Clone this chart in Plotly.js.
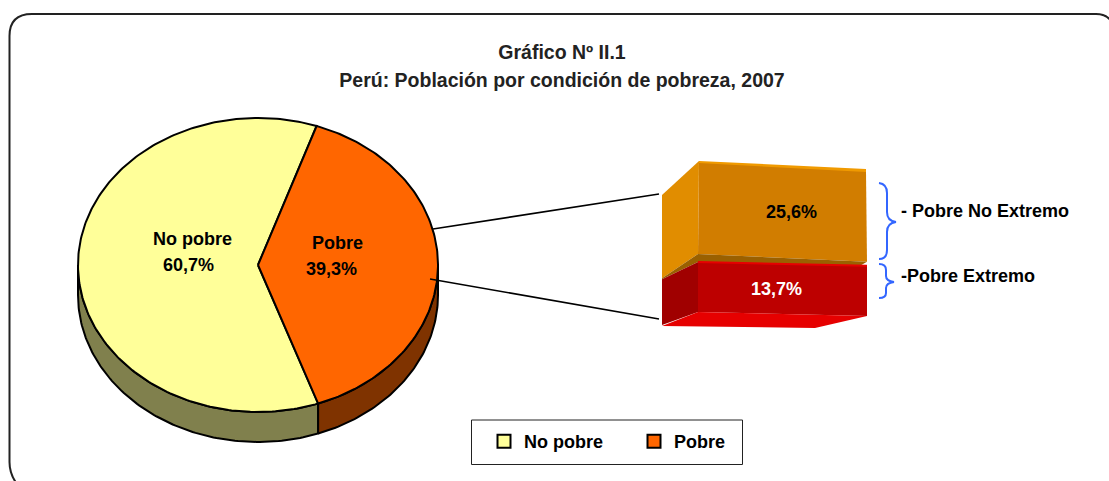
<!DOCTYPE html>
<html>
<head>
<meta charset="utf-8">
<script src="https://cdn.plot.ly/plotly-3.0.1.min.js"></script>
<style>html,body{margin:0;padding:0;background:#fff;overflow:hidden}#chart{width:1109px;height:481px}</style>
</head>
<body>
<div id="chart"></div>
<script>
var titleLine1 = 'Gráfico Nº II.1';
var titleLine2 = 'Perú: Población por condición de pobreza, 2007';
var categories = ['No pobre', 'Pobre'];
var values = [60.7, 39.3];
var pieColors = ['#FFFF99', '#FF6600'];
var wallColors = ['#80804D', '#7F3300'];
var breakdownLabels = ['- Pobre No Extremo', '-Pobre Extremo'];
var breakdownValues = [25.6, 13.7];
var FONT = '"Liberation Sans", Arial, sans-serif';

function comma(v) { return v.toFixed(1).replace('.', ',') + '%'; }

// pie geometry (axes are set up 1:1 with the page)
var cx = 258, cy = 265, rx = 180, ry = 147, depth = 30, startDeg = 19;
function pt(deg, dy) {
  var a = deg * Math.PI / 180;
  return [cx + rx * Math.sin(a), cy - ry * Math.cos(a) + (dy || 0)];
}
function arc(from, to, dy) {
  var out = [], n = Math.max(2, Math.ceil(Math.abs(to - from)));
  for (var i = 0; i <= n; i++) out.push(pt(from + (to - from) * i / n, dy));
  return out;
}
function poly(points, color, lineColor, lineWidth) {
  var p = points.concat([points[0]]);
  return {
    type: 'scatter', mode: lineWidth ? 'lines' : 'none', fill: 'toself', fillcolor: color,
    x: p.map(function (q) { return q[0]; }), y: p.map(function (q) { return q[1]; }),
    line: { color: lineColor || color, width: lineWidth || 0 },
    hoverinfo: 'skip', showlegend: false
  };
}

var total = values[0] + values[1];
var pobreSpan = 360 * values[1] / total;
var pobreEnd = startDeg + pobreSpan;
var traces = [];

// side walls
function wall(from, to, color) {
  var front = arc(from, to, 0), back = arc(to, from, depth);
  traces.push(poly(back.concat(front), color, '#000', 2));
}
wall(pobreEnd, 270, wallColors[0]);
wall(90, pobreEnd, wallColors[1]);

// top faces
traces.push(poly([[cx, cy]].concat(arc(pobreEnd, startDeg + 360)), pieColors[0], '#000', 2));
traces.push(poly([[cx, cy]].concat(arc(startDeg, pobreEnd)), pieColors[1], '#000', 2));

// connector lines
[[[433, 229], [659, 194]], [[430, 279], [659, 319]]].forEach(function (s) {
  traces.push({ type: 'scatter', mode: 'lines', x: [s[0][0], s[1][0]], y: [s[0][1], s[1][1]],
    line: { color: '#000', width: 1.6 }, hoverinfo: 'skip', showlegend: false });
});

// breakdown block: front face split by the values
var frac = breakdownValues[0] / (breakdownValues[0] + breakdownValues[1]);
var fTL = [699, 163], fTR = [866, 172], fBL = [698, 312], fBR = [867, 316];
var bL = 662, bTop = 195, bBot = 326;
var splitL = fTL[1] + (fBL[1] - fTL[1]) * frac, splitR = fTR[1] + (fBR[1] - fTR[1]) * frac;
var sideSplit = bTop + (bBot - bTop) * frac;
traces.push(poly([[fTL[0], 161], [fTR[0], 169], [fTR[0], 173], [fTL[0], 164]], '#F09A00'));
traces.push(poly([[bL, bTop], [fTL[0], 161], [fBL[0], splitL - 6], [bL, sideSplit - 2]], '#E18D00'));
traces.push(poly([fTL, fTR, [fBR[0], splitR - 4], [fBL[0], splitL - 6]], '#D17D00'));
traces.push(poly([[fBL[0], splitL - 6], [fBR[0], splitR - 4], [fBR[0] - 7, splitR], [fBL[0], splitL + 2], [bL, sideSplit - 1], [bL, sideSplit - 2]], '#9A6000'));
traces.push(poly([[bL, sideSplit - 1], [fBL[0], splitL + 2], fBL, [bL, bBot - 1]], '#A00000'));
traces.push(poly([[fBL[0], splitL + 2], [fBR[0], splitR], fBR, fBL], '#BD0000'));
traces.push(poly([[fBL[0], splitL + 1], [fBR[0], splitR - 1], [fBR[0], splitR + 1], [fBL[0], splitL + 3]], '#E60000'));
traces.push(poly([[bL, bBot], fBL, fBR, [815, 328]], '#E60000'));

// legend entries
categories.forEach(function (c, i) {
  traces.push({ type: 'scatter', mode: 'markers', name: c, x: [null], y: [null],
    marker: { symbol: 'square', size: 13, color: pieColors[i], line: { color: '#000', width: 2 } },
    hoverinfo: 'skip' });
});

function label(text, x, y, size, color) {
  return { xref: 'x', yref: 'y', x: x, y: y, text: text, showarrow: false,
    font: { family: FONT, size: size, color: color || '#000', weight: 'bold' } };
}

var brace = 'M879 183 Q887 184 887 193 L887 212 Q887 221 896 222 Q887 223 887 232 L887 250 Q887 259 879 259';
var brace2 = 'M879 264 Q886 264 886 270 L886 276 Q886 281 894 282 Q886 283 886 288 L886 293 Q886 298 879 298';

var layout = {
  width: 1109, height: 481,
  margin: { l: 0, r: 0, t: 0, b: 0 },
  paper_bgcolor: '#fff', plot_bgcolor: 'rgba(0,0,0,0)',
  title: {
    text: '<span style="font-size:19.5px">' + titleLine1 + '</span><br><span style="font-size:19.5px">' + titleLine2 + '</span>',
    x: 562 / 1109, xanchor: 'center', y: 1 - 59 / 481, yanchor: 'top',
    font: { family: FONT, size: 21.5, color: '#222', weight: 'bold' }
  },
  xaxis: { range: [0, 1109], visible: false, fixedrange: true },
  yaxis: { range: [481, 0], visible: false, fixedrange: true },
  legend: {
    orientation: 'h', x: 484 / 1109, y: 1 - 423 / 481, xanchor: 'left', yanchor: 'top',
    borderwidth: 0, bgcolor: 'rgba(0,0,0,0)', entrywidth: 105, entrywidthmode: 'pixels',
    font: { family: FONT, size: 18, color: '#000', weight: 'bold' }
  },
  shapes: [
    { type: 'path', xref: 'x', yref: 'y', path: 'M1113 24 Q1108 14 1096 14 L32 14 Q9.5 14 9.5 36 L9.5 462 Q9.5 474 17 484',
      line: { color: '#222', width: 2 }, layer: 'below' },
    { type: 'rect', xref: 'x', yref: 'y', x0: 471.5, x1: 742.5, y0: 420, y1: 464.5,
      line: { color: '#222', width: 1 }, layer: 'below' },
    { type: 'path', xref: 'x', yref: 'y', path: brace, line: { color: '#3366FF', width: 2 } },
    { type: 'path', xref: 'x', yref: 'y', path: brace2, line: { color: '#3366FF', width: 2 } }
  ],
  annotations: [
    label(categories[0], 192, 239, 18),
    label(comma(values[0]), 188, 265, 18),
    label(categories[1], 337, 243, 18),
    label(comma(values[1]), 331, 269, 18),
    label(comma(breakdownValues[0]), 791, 212, 18),
    label(comma(breakdownValues[1]), 776, 289, 18, '#fff'),
    label(breakdownLabels[0], 985, 211, 18),
    label(breakdownLabels[1], 968, 276, 18)
  ],
  showlegend: true
};
Plotly.newPlot('chart', traces, layout, { displayModeBar: false, staticPlot: true });
</script>
</body>
</html>
